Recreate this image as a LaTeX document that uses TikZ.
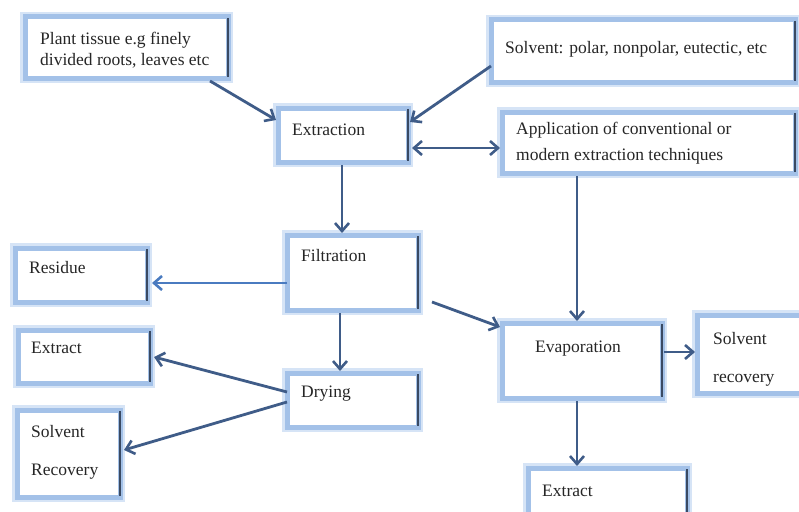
\documentclass[tikz,border=0pt]{standalone}
\usepackage{fontspec}
\setmainfont{Liberation Serif}
\usetikzlibrary{arrows.meta}
\definecolor{glowout}{HTML}{D6E4F6}
\definecolor{glowin}{HTML}{A3C1E8}
\definecolor{edgedark}{HTML}{3A4A63}
\definecolor{arrowc}{HTML}{3F5C88}
\definecolor{arrowl}{HTML}{4A7BC0}
\definecolor{txt}{HTML}{262626}
\tikzset{
  mybarb/.tip={Straight Barb[length=8pt,width=14pt,line width=2.6pt]},
  box/.style={rectangle, fill=white, draw=glowin, line width=5pt, inner sep=0pt, outer sep=0pt, anchor=north west,
    preaction={draw=glowout, line width=10pt}},
  lbl/.style={anchor=base west, inner sep=0pt, text=txt, font=\fontsize{17.5}{20}\selectfont},
  flow/.style={draw=arrowc, line width=2.8pt, -mybarb},
  flowl/.style={flow, draw=arrowl},
  edge/.style={draw=edgedark, line width=1.6pt}
}
\newcommand{\mybox}[5]{% name, x1, y1, x2, y2
  \node[box, minimum width={#4-#2}, minimum height={#5-#3}] (#1) at (#2,#3) {};
  \draw[edge] ([yshift=-1pt]#1.north east) -- ([yshift=1pt]#1.south east);
}
\begin{document}
\begin{tikzpicture}[x=1pt,y=-1pt]
\useasboundingbox (0,0) rectangle (799,511);
\clip (0,0) rectangle (799,511);
\fill[white] (0,0) rectangle (799,511);

\mybox{plant}{25}{17}{228}{78}
\mybox{solv}{491}{20}{795}{82}
\mybox{extr}{278}{108}{408}{162}
\mybox{appl}{502}{112}{795}{173}
\mybox{filt}{287}{235}{418}{310}
\mybox{resi}{15}{248}{147}{302}
\mybox{extL}{18}{330}{150}{383}
\mybox{dry}{287}{373}{418}{427}
\mybox{svL}{17}{410}{120}{497}
\mybox{evap}{502}{323}{662}{398}
\mybox{svR}{697}{315}{812}{393}
\mybox{extB}{528}{468}{687}{530}

\node[lbl] (t1) at (40,45) {Plant tissue e.g finely};
\node[lbl] (t2) at (40,66) {divided roots, leaves etc};
\node[lbl] (t3) at (505,53) {Solvent: polar, nonpolar, eutectic, etc};
\node[lbl] (t4) at (292,135) {Extraction};
\node[lbl] (t5) at (516,134) {Application of conventional or};
\node[lbl] (t6) at (516,160) {modern extraction techniques};
\node[lbl] (t7) at (301,261) {Filtration};
\node[lbl] (t8) at (29,273) {Residue};
\node[lbl] (t9) at (31,353) {Extract};
\node[lbl] (t10) at (301,397) {Drying};
\node[lbl] (t11) at (31,437) {Solvent};
\node[lbl] (t12) at (31,475) {Recovery};
\node[lbl] (t13) at (535,352) {Evaporation};
\node[lbl] (t14) at (713,344) {Solvent};
\node[lbl] (t15) at (713,382) {recovery};
\node[lbl] (t16) at (542,496) {Extract};

% connectors
\draw[flow] ([xshift=-18pt,yshift=-3pt]plant.south east) -- ([xshift=-2pt,yshift=-12pt]extr.north west);
\draw[flow] ([yshift=-46pt]solv.north west) -- ([xshift=2pt,yshift=-14pt]extr.north east);
\draw[flow, mybarb-mybarb] ([xshift=4pt,yshift=-40pt]extr.north east) -- ([xshift=-2pt,yshift=-36pt]appl.north west);
\draw[flow] ([yshift=-3pt]extr.south -| 342,0) -- ([yshift=2pt]filt.north -| 342,0);
\draw[flow] ([yshift=-3pt]appl.south -| 577,0) -- ([yshift=2pt]evap.north -| 577,0);
\draw[flowl] ([yshift=-48pt]filt.north west) -- ([xshift=5pt,yshift=-35pt]resi.north east);
\draw[flow] ([xshift=14pt,yshift=8pt]filt.south east) -- ([xshift=-2pt,yshift=-4pt]evap.north west);
\draw[flow] ([yshift=-3pt]filt.south -| 340,0) -- ([yshift=2pt]dry.north -| 340,0);
\draw[flow] ([yshift=-19pt]dry.north west) -- ([xshift=4pt,yshift=-27pt]extL.north east);
\draw[flow] ([yshift=-29pt]dry.north west) -- ([xshift=4pt,yshift=-40pt]svL.north east);
\draw[flow] ([xshift=2pt,yshift=-29pt]evap.north east) -- ([xshift=-2pt,yshift=-37pt]svR.north west);
\draw[flow] ([yshift=-3pt]evap.south -| 577,0) -- ([yshift=2pt]extB.north -| 577,0);
\end{tikzpicture}
\end{document}
